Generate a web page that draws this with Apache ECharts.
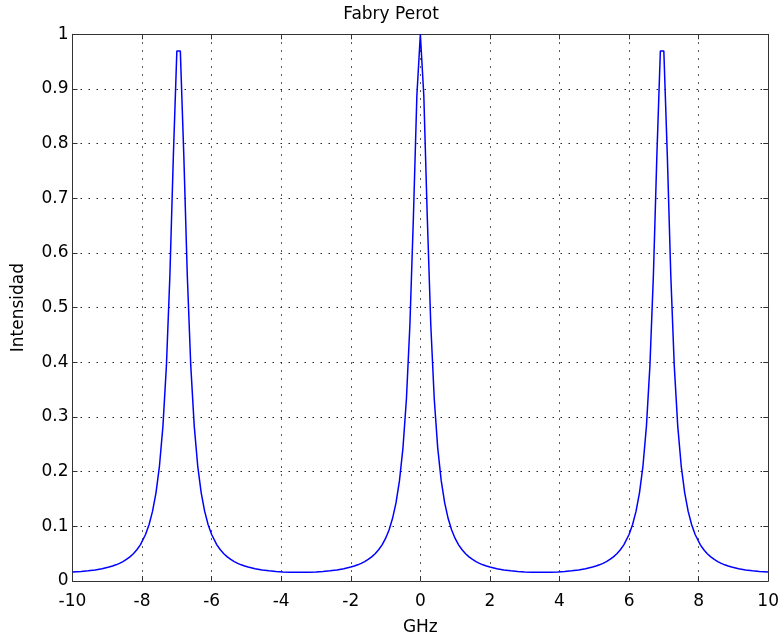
<!DOCTYPE html>
<html>
<head>
<meta charset="utf-8">
<script src="https://cdn.jsdelivr.net/npm/echarts@6/dist/echarts.min.js"></script>
<style>
html,body{margin:0;padding:0;background:#fff;}
#chart{width:782px;height:641px;}
</style>
</head>
<body>
<div id="chart"></div>
<script>
// Left resonance (around -6.95 GHz)
var leftPeakGHz = [-10, -9.75, -9.55, -9.35, -9.15, -8.95, -8.85, -8.75, -8.65, -8.55, -8.45, -8.35, -8.25, -8.15, -8.05,
  -7.9, -7.8, -7.7, -7.6, -7.5, -7.4, -7.3, -7.2, -7.1, -7.0, -6.9, -6.8, -6.7, -6.6, -6.5, -6.4, -6.3, -6.2, -6.1, -6.0,
  -5.85, -5.75, -5.65, -5.55, -5.45, -5.35, -5.25, -5.15, -5.05, -4.95, -4.75, -4.55, -4.35, -4.15, -3.95, -3.75, -3.475];
var leftPeakIntensity = [0.0165, 0.0174, 0.0186, 0.0202, 0.0224, 0.0255, 0.0274, 0.0296, 0.0323, 0.0355, 0.0394, 0.0441, 0.0499, 0.0571, 0.0662,
  0.0851, 0.1030, 0.1273, 0.1613, 0.2103, 0.2833, 0.3939, 0.5591, 0.7785, 0.9693, 0.9693, 0.7785, 0.5591, 0.3939, 0.2833, 0.2103, 0.1613, 0.1273, 0.1030, 0.0851,
  0.0662, 0.0571, 0.0499, 0.0441, 0.0394, 0.0355, 0.0323, 0.0296, 0.0274, 0.0255, 0.0224, 0.0202, 0.0186, 0.0174, 0.0166, 0.0161, 0.0159];

// Central resonance (0 GHz)
var centerPeakGHz = [-3.2, -3.0, -2.8, -2.6, -2.4, -2.2, -2.0, -1.9, -1.8, -1.7, -1.6, -1.5, -1.4, -1.3, -1.2, -1.1, -1.0,
  -0.9, -0.8, -0.7, -0.6, -0.5, -0.4, -0.3, -0.2, -0.1, 0, 0.1, 0.2, 0.3, 0.4, 0.5, 0.6, 0.7, 0.8, 0.9,
  1.0, 1.1, 1.2, 1.3, 1.4, 1.5, 1.6, 1.7, 1.8, 1.9, 2.0, 2.2, 2.4, 2.6, 2.8, 3.0, 3.2];
var centerPeakIntensity = [0.0161, 0.0166, 0.0174, 0.0186, 0.0202, 0.0224, 0.0255, 0.0274, 0.0296, 0.0323, 0.0355, 0.0394, 0.0441, 0.0499, 0.0571, 0.0662, 0.0779,
  0.0934, 0.1142, 0.1428, 0.1835, 0.2431, 0.3328, 0.4688, 0.6643, 0.8876, 1.0, 0.8876, 0.6643, 0.4688, 0.3328, 0.2431, 0.1835, 0.1428, 0.1142, 0.0934,
  0.0779, 0.0662, 0.0571, 0.0499, 0.0441, 0.0394, 0.0355, 0.0323, 0.0296, 0.0274, 0.0255, 0.0224, 0.0202, 0.0186, 0.0174, 0.0166, 0.0161];

// Right resonance (around +6.95 GHz)
var rightPeakGHz = [3.475, 3.75, 3.95, 4.15, 4.35, 4.55, 4.75, 4.95, 5.05, 5.15, 5.25, 5.35, 5.45, 5.55, 5.65, 5.75, 5.85,
  6.0, 6.1, 6.2, 6.3, 6.4, 6.5, 6.6, 6.7, 6.8, 6.9, 7.0, 7.1, 7.2, 7.3, 7.4, 7.5, 7.6, 7.7, 7.8, 7.9,
  8.05, 8.15, 8.25, 8.35, 8.45, 8.55, 8.65, 8.75, 8.85, 8.95, 9.15, 9.35, 9.55, 9.75, 10];
var rightPeakIntensity = [0.0159, 0.0161, 0.0166, 0.0174, 0.0186, 0.0202, 0.0224, 0.0255, 0.0274, 0.0296, 0.0323, 0.0355, 0.0394, 0.0441, 0.0499, 0.0571, 0.0662,
  0.0851, 0.1030, 0.1273, 0.1613, 0.2103, 0.2833, 0.3939, 0.5591, 0.7785, 0.9693, 0.9693, 0.7785, 0.5591, 0.3939, 0.2833, 0.2103, 0.1613, 0.1273, 0.1030, 0.0851,
  0.0662, 0.0571, 0.0499, 0.0441, 0.0394, 0.0355, 0.0323, 0.0296, 0.0274, 0.0255, 0.0224, 0.0202, 0.0186, 0.0174, 0.0165];

var xTicks = [-10, -8, -6, -4, -2, 0, 2, 4, 6, 8, 10];
var yTicks = [0, 0.1, 0.2, 0.3, 0.4, 0.5, 0.6, 0.7, 0.8, 0.9, 1];

var titleText = 'Fabry Perot';
var xName = 'GHz';
var yName = 'Intensidad';

function pairs(xs, ys) { var out = []; for (var i = 0; i < xs.length; i++) out.push([xs[i], ys[i]]); return out; }
var seriesData = pairs(leftPeakGHz, leftPeakIntensity)
  .concat(pairs(centerPeakGHz, centerPeakIntensity))
  .concat(pairs(rightPeakGHz, rightPeakIntensity));

var FONT = 'DejaVu Sans';
var axisColor = '#333';
var gridDots = { color: '#222', width: 1, type: [1.5, 6.5] };

var chart = echarts.init(document.getElementById('chart'), null, { renderer: 'canvas' });
chart.setOption({
  animation: false,
  backgroundColor: '#fff',
  textStyle: { fontFamily: FONT },
  title: {
    text: titleText, left: 'center', top: 1,
    textStyle: { fontFamily: FONT, fontSize: 17, fontWeight: 'normal', color: '#000' }
  },
  grid: { left: 72.5, right: 11.5, top: 34.3, bottom: 53.5, containLabel: false, show: false },
  xAxis: [{
    type: 'value', min: xTicks[0], max: xTicks[xTicks.length - 1], interval: 2, position: 'bottom',
    name: xName, nameLocation: 'middle', nameGap: 38,
    nameTextStyle: { fontFamily: FONT, fontSize: 17, color: '#000' },
    axisLine: { show: true, onZero: false, lineStyle: { color: axisColor, width: 1 } },
    axisTick: { show: true, inside: true, length: 5, lineStyle: { color: axisColor } },
    axisLabel: { fontFamily: FONT, fontSize: 17, color: '#000', margin: 12 },
    splitLine: { show: true, lineStyle: gridDots }
  }, {
    type: 'value', min: xTicks[0], max: xTicks[xTicks.length - 1], interval: 2, position: 'top',
    axisLine: { show: true, onZero: false, lineStyle: { color: axisColor, width: 1 } },
    axisTick: { show: true, inside: true, length: 5, lineStyle: { color: axisColor } },
    axisLabel: { show: false }, splitLine: { show: false }
  }],
  yAxis: [{
    type: 'value', min: yTicks[0], max: yTicks[yTicks.length - 1], interval: 0.1, position: 'left',
    name: yName, nameLocation: 'middle', nameGap: 45,
    nameTextStyle: { fontFamily: FONT, fontSize: 17, color: '#000' },
    axisLine: { show: true, onZero: false, lineStyle: { color: axisColor, width: 1 } },
    axisTick: { show: true, inside: true, length: 5, lineStyle: { color: axisColor } },
    axisLabel: { fontFamily: FONT, fontSize: 17, color: '#000', margin: 4 },
    splitLine: { show: true, lineStyle: gridDots }
  }, {
    type: 'value', min: yTicks[0], max: yTicks[yTicks.length - 1], interval: 0.1, position: 'right',
    axisLine: { show: true, onZero: false, lineStyle: { color: axisColor, width: 1 } },
    axisTick: { show: true, inside: true, length: 5, lineStyle: { color: axisColor } },
    axisLabel: { show: false }, splitLine: { show: false }
  }],
  series: [{
    type: 'line', xAxisIndex: 0, yAxisIndex: 0,
    data: seriesData, showSymbol: false, symbol: 'none', smooth: false,
    lineStyle: { color: '#0000ff', width: 1.5 },
    clip: true
  }]
});
</script>
</body>
</html>
